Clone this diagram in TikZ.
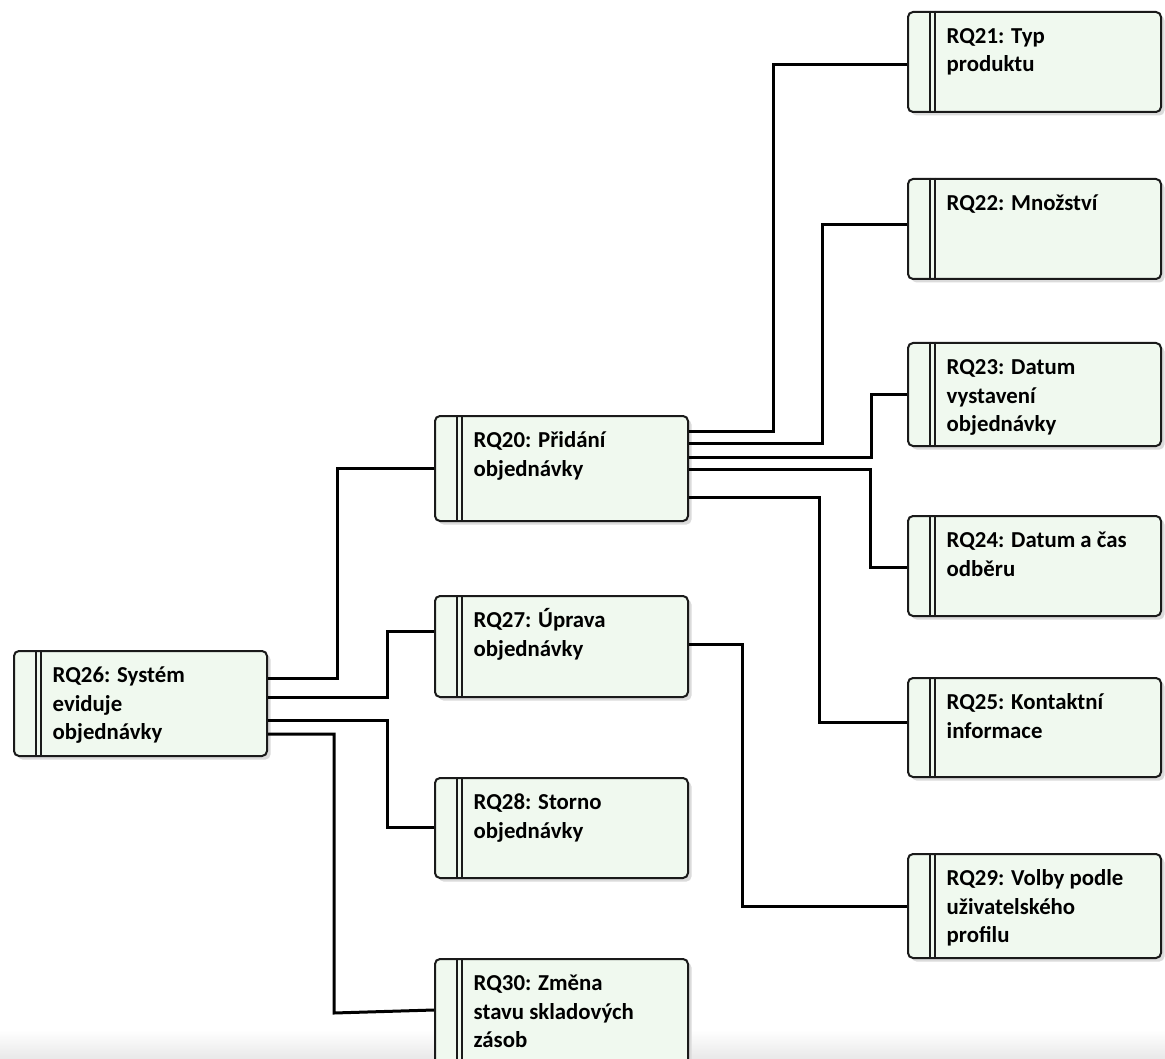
\documentclass[tikz,border=0pt]{standalone}
\usepackage{fontspec}
\setmainfont{Carlito}
\usetikzlibrary{shadows,calc}

\definecolor{boxfill}{HTML}{F0F9EF}
\definecolor{boxline}{HTML}{1A1A1A}

\tikzset{
  req/.style={draw=boxline, line width=2pt, rounded corners=5pt,
    fill=boxfill, minimum width=253pt, anchor=north west, inner sep=0pt,
    drop shadow={shadow xshift=3.5pt, shadow yshift=-3.5pt, fill=black!14, opacity=1}},
  bar/.style={draw=boxline, line width=2.3pt},
  reqtext/.style={anchor=base west, inner sep=0pt, align=left,
    font=\fontsize{22.8pt}{28.5pt}\selectfont\bfseries},
  link/.style={draw=black, line width=3pt}
}

% box with the double bar on the left and its wrapped title
\newcommand{\reqbox}[5]{%
  \node[req, minimum height=#4pt] (#1) at (#2,#3) {};
  \draw[bar] ($(#1.north west)+(22.8,0)$) -- ($(#1.south west)+(22.8,0)$);
  \draw[bar] ($(#1.north west)+(28.3,0)$) -- ($(#1.south west)+(28.3,0)$);
  \node[reqtext] (#1t) at ($(#1.north west)+(39.5,32.5)$)
    {\begin{tabular}[t]{@{}l@{}}#5\end{tabular}};
}

\begin{document}
\begin{tikzpicture}[x=1pt, y=-1pt]
  \useasboundingbox (0,0) rectangle (1165,1059);
  \clip (0,0) rectangle (1165,1059);
  \fill[white] (0,0) rectangle (1165,1059);
  \shade[top color=white, bottom color=black!9] (0,1030) rectangle (1165,1059);

  % requirement boxes
  \reqbox{r21}{907}{11}{100}{RQ21: Typ\\produktu}
  \reqbox{r22}{907}{178}{100}{RQ22: Množství}
  \reqbox{r23}{907}{342}{103}{RQ23: Datum\\vystavení\\objednávky}
  \reqbox{r24}{907}{515}{100}{RQ24: Datum a čas\\odběru}
  \reqbox{r25}{907}{677}{99}{RQ25: Kontaktní\\informace}
  \reqbox{r29}{907}{853}{104}{RQ29: Volby podle\\uživatelského\\profilu}
  \reqbox{r20}{434}{415}{105}{RQ20: Přidání\\objednávky}
  \reqbox{r27}{434}{595}{101}{RQ27: Úprava\\objednávky}
  \reqbox{r28}{434}{777}{100}{RQ28: Storno\\objednávky}
  \reqbox{r30}{434}{958}{106}{RQ30: Změna\\stavu skladových\\zásob}
  \reqbox{r26}{13}{650}{105}{RQ26: Systém\\eviduje\\objednávky}

  % RQ26 decomposition
  \draw[link] (r26.east |- 0,678) -- (337,678) -- (337,468) -- (r20.west |- 0,468);
  \draw[link] (r26.east |- 0,697) -- (387,697) -- (387,631) -- (r27.west |- 0,631);
  \draw[link] (r26.east |- 0,720) -- (387,720) -- (387,827) -- (r28.west |- 0,827);
  \draw[link] (r26.east |- 0,734) -- (334,734) -- (334,1013) -- (r30.west |- 0,1010);

  % RQ20 decomposition
  \draw[link] (r20.east |- 0,431) -- (773,431) -- (773,65) -- (r21.west |- 0,65);
  \draw[link] (r20.east |- 0,443) -- (822,443) -- (822,225) -- (r22.west |- 0,225);
  \draw[link] (r20.east |- 0,457) -- (871,457) -- (871,394) -- (r23.west |- 0,394);
  \draw[link] (r20.east |- 0,469) -- (870,469) -- (870,567) -- (r24.west |- 0,567);
  \draw[link] (r20.east |- 0,497) -- (819,497) -- (819,722) -- (r25.west |- 0,722);

  % RQ27 decomposition
  \draw[link] (r27.east |- 0,644) -- (742,644) -- (742,906) -- (r29.west |- 0,906);
\end{tikzpicture}
\end{document}
